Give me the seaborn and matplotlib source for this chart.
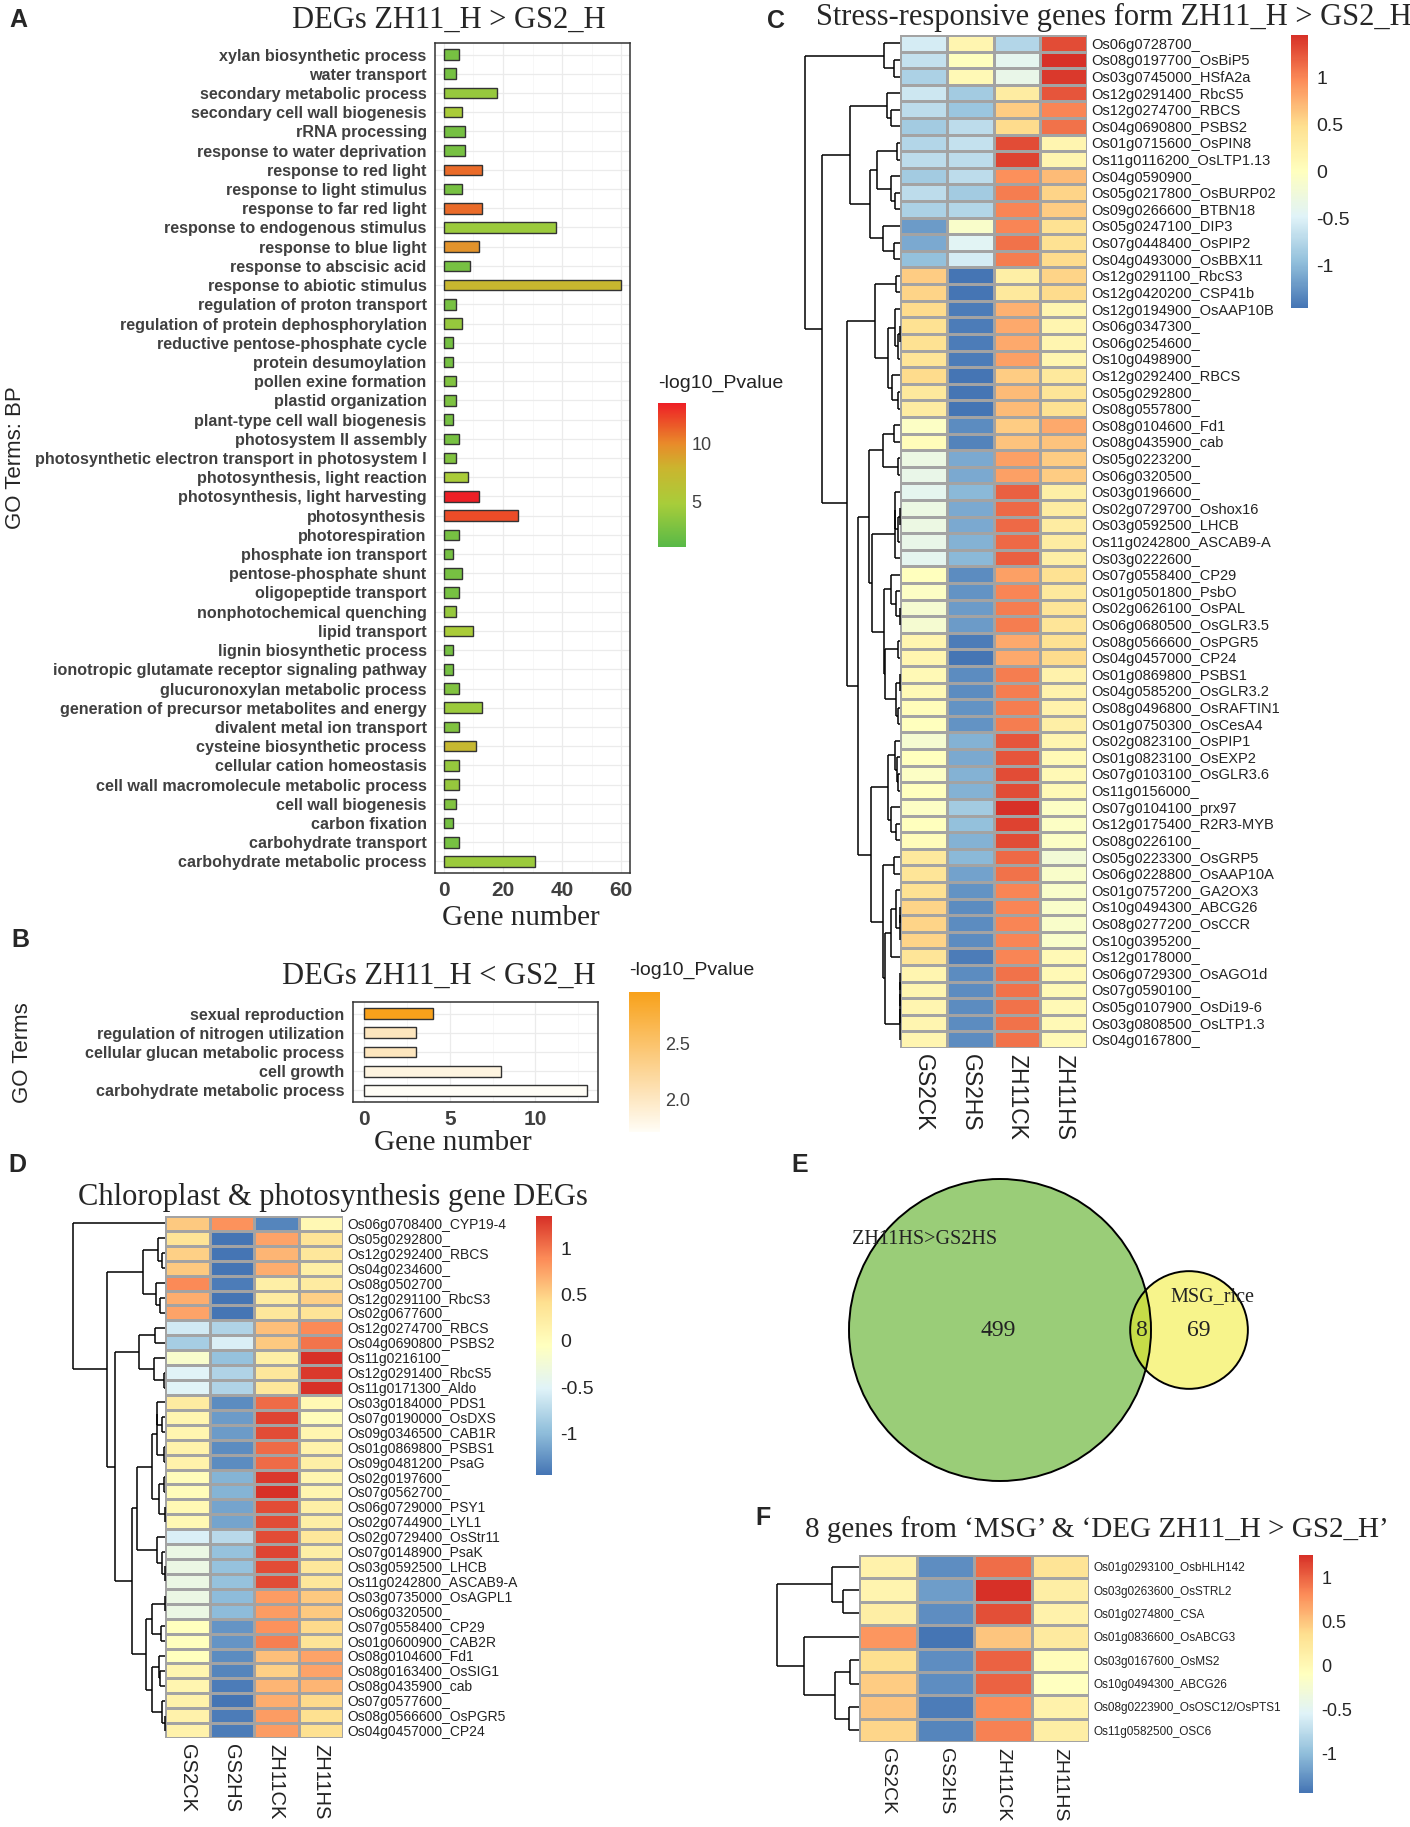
import numpy as np
import pandas as pd
import matplotlib
matplotlib.use("Agg")
import matplotlib.pyplot as plt
import seaborn as sns
from matplotlib import font_manager
from matplotlib.colors import LinearSegmentedColormap, Normalize
from matplotlib.cm import ScalarMappable
from matplotlib.patches import Circle

# ---------------- data ----------------
# panel A: GO terms up in ZH11_H
go_terms_a = [
    "xylan biosynthetic process", "water transport", "secondary metabolic process",
    "secondary cell wall biogenesis", "rRNA processing", "response to water deprivation",
    "response to red light", "response to light stimulus", "response to far red light",
    "response to endogenous stimulus", "response to blue light", "response to abscisic acid",
    "response to abiotic stimulus", "regulation of proton transport",
    "regulation of protein dephosphorylation", "reductive pentose-phosphate cycle",
    "protein desumoylation", "pollen exine formation", "plastid organization",
    "plant-type cell wall biogenesis", "photosystem II assembly",
    "photosynthetic electron transport in photosystem I", "photosynthesis, light reaction",
    "photosynthesis, light harvesting", "photosynthesis", "photorespiration",
    "phosphate ion transport", "pentose-phosphate shunt", "oligopeptide transport",
    "nonphotochemical quenching", "lipid transport", "lignin biosynthetic process",
    "ionotropic glutamate receptor signaling pathway", "glucuronoxylan metabolic process",
    "generation of precursor metabolites and energy", "divalent metal ion transport",
    "cysteine biosynthetic process", "cellular cation homeostasis",
    "cell wall macromolecule metabolic process", "cell wall biogenesis", "carbon fixation",
    "carbohydrate transport", "carbohydrate metabolic process"]
gene_num_a = [5, 4, 18, 6, 7, 7, 13, 6, 13, 38, 12, 9, 60, 4, 6, 3, 3, 4, 4, 3, 5, 4, 8, 12, 25,
              5, 3, 6, 5, 4, 10, 3, 3, 5, 13, 5, 11, 5, 5, 4, 3, 5, 31]
pval_a = [2.6, 2.5, 4.0, 5.0, 2.5, 2.6, 11.0, 2.6, 11.0, 4.2, 9.6, 2.6, 7.6, 2.6, 4.0, 2.5, 2.5,
          3.0, 2.8, 2.5, 2.6, 3.0, 5.0, 13.5, 12.0, 2.6, 2.5, 2.6, 2.6, 4.0, 5.0, 2.5, 2.5, 3.0,
          4.2, 3.0, 7.5, 4.0, 4.0, 3.0, 2.5, 2.6, 4.2]

# panel B: GO terms down in ZH11_H
go_terms_b = ["sexual reproduction", "regulation of nitrogen utilization",
              "cellular glucan metabolic process", "cell growth", "carbohydrate metabolic process"]
gene_num_b = [4, 3, 3, 8, 13]
pval_b = [2.95, 2.03, 2.03, 1.84, 1.71]

samples = ["GS2CK", "GS2HS", "ZH11CK", "ZH11HS"]

# panel C: stress-responsive genes (row z-scores)
genes_c = [
    "Os06g0728700_", "Os08g0197700_OsBiP5", "Os03g0745000_HSfA2a", "Os12g0291400_RbcS5",
    "Os12g0274700_RBCS", "Os04g0690800_PSBS2", "Os01g0715600_OsPIN8", "Os11g0116200_OsLTP1.13",
    "Os04g0590900_", "Os05g0217800_OsBURP02", "Os09g0266600_BTBN18", "Os05g0247100_DIP3",
    "Os07g0448400_OsPIP2", "Os04g0493000_OsBBX11", "Os12g0291100_RbcS3", "Os12g0420200_CSP41b",
    "Os12g0194900_OsAAP10B", "Os06g0347300_", "Os06g0254600_", "Os10g0498900_",
    "Os12g0292400_RBCS", "Os05g0292800_", "Os08g0557800_", "Os08g0104600_Fd1",
    "Os08g0435900_cab", "Os05g0223200_", "Os06g0320500_", "Os03g0196600_",
    "Os02g0729700_Oshox16", "Os03g0592500_LHCB", "Os11g0242800_ASCAB9-A", "Os03g0222600_",
    "Os07g0558400_CP29", "Os01g0501800_PsbO", "Os02g0626100_OsPAL", "Os06g0680500_OsGLR3.5",
    "Os08g0566600_OsPGR5", "Os04g0457000_CP24", "Os01g0869800_PSBS1", "Os04g0585200_OsGLR3.2",
    "Os08g0496800_OsRAFTIN1", "Os01g0750300_OsCesA4", "Os02g0823100_OsPIP1",
    "Os01g0823100_OsEXP2", "Os07g0103100_OsGLR3.6", "Os11g0156000_", "Os07g0104100_prx97",
    "Os12g0175400_R2R3-MYB", "Os08g0226100_", "Os05g0223300_OsGRP5", "Os06g0228800_OsAAP10A",
    "Os01g0757200_GA2OX3", "Os10g0494300_ABCG26", "Os08g0277200_OsCCR", "Os10g0395200_",
    "Os12g0178000_", "Os06g0729300_OsAGO1d", "Os07g0590100_", "Os05g0107900_OsDi19-6",
    "Os03g0808500_OsLTP1.3", "Os04g0167800_"]
gs2ck_c = [-0.55, -0.65, -0.8, -0.6, -0.7, -0.85, -0.75, -0.7, -0.85, -0.7, -0.8, -1.2, -1.1, -0.95,
           0.6, 0.55, 0.5, 0.45, 0.45, 0.4, 0.5, 0.35, 0.3,
           -0.05, 0.05, -0.3, -0.35, -0.4, -0.3, -0.3, -0.35, -0.4,
           0.0, -0.05, -0.15, -0.15, 0.15, 0.15, 0.1, 0.1, 0.05, 0.0,
           -0.15, 0.0, -0.05, 0.0, -0.05, 0.0, 0.05,
           0.35, 0.4, 0.45, 0.55, 0.55, 0.55, 0.4, 0.15, 0.15, 0.15, 0.15, 0.15]
gs2hs_c = [0.15, 0.0, 0.1, -0.85, -0.9, -0.7, -0.65, -0.7, -0.7, -0.85, -0.75, -0.1, -0.45, -0.55,
           -1.45, -1.45, -1.4, -1.4, -1.4, -1.4, -1.45, -1.45, -1.45,
           -1.3, -1.35, -1.1, -1.1, -1.0, -1.1, -1.1, -1.05, -1.0,
           -1.3, -1.25, -1.2, -1.2, -1.4, -1.45, -1.3, -1.3, -1.25, -1.25,
           -1.05, -1.1, -1.05, -1.05, -0.85, -0.95, -1.05,
           -1.0, -1.15, -1.25, -1.3, -1.3, -1.3, -1.4, -1.3, -1.3, -1.3, -1.3, -1.3]
zh11ck_c = [-0.75, -0.4, -0.35, 0.3, 0.6, 0.5, 1.3, 1.35, 0.95, 1.05, 1.0, 1.0, 1.1, 1.05,
            0.25, 0.35, 0.75, 0.8, 0.8, 0.85, 0.6, 0.7, 0.7,
            0.6, 0.65, 0.85, 0.85, 1.2, 1.15, 1.15, 1.15, 1.2,
            0.85, 1.0, 1.05, 1.05, 0.8, 0.8, 1.05, 1.05, 1.05, 1.05,
            1.25, 1.25, 1.3, 1.3, 1.45, 1.35, 1.3,
            1.15, 1.1, 1.0, 1.0, 1.0, 1.0, 1.0, 1.1, 1.1, 1.1, 1.1, 1.1]
zh11hs_c = [1.3, 1.45, 1.4, 1.25, 1.0, 1.1, 0.15, 0.15, 0.7, 0.55, 0.6, 0.45, 0.45, 0.5,
            0.55, 0.5, 0.15, 0.15, 0.15, 0.15, 0.35, 0.4, 0.45,
            0.8, 0.65, 0.6, 0.6, 0.25, 0.3, 0.3, 0.3, 0.25,
            0.45, 0.35, 0.4, 0.4, 0.45, 0.5, 0.2, 0.2, 0.2, 0.25,
            0.15, 0.1, 0.1, 0.1, -0.05, -0.05, -0.05,
            -0.2, -0.1, -0.1, -0.1, -0.1, -0.1, 0.1, 0.1, 0.1, 0.1, 0.1, 0.1]

# panel D: chloroplast & photosynthesis genes
genes_d = [
    "Os06g0708400_CYP19-4", "Os05g0292800_", "Os12g0292400_RBCS", "Os04g0234600_",
    "Os08g0502700_", "Os12g0291100_RbcS3", "Os02g0677600_", "Os12g0274700_RBCS",
    "Os04g0690800_PSBS2", "Os11g0216100_", "Os12g0291400_RbcS5", "Os11g0171300_Aldo",
    "Os03g0184000_PDS1", "Os07g0190000_OsDXS", "Os09g0346500_CAB1R", "Os01g0869800_PSBS1",
    "Os09g0481200_PsaG", "Os02g0197600_", "Os07g0562700_", "Os06g0729000_PSY1",
    "Os02g0744900_LYL1", "Os02g0729400_OsStr11", "Os07g0148900_PsaK", "Os03g0592500_LHCB",
    "Os11g0242800_ASCAB9-A", "Os03g0735000_OsAGPL1", "Os06g0320500_", "Os07g0558400_CP29",
    "Os01g0600900_CAB2R", "Os08g0104600_Fd1", "Os08g0163400_OsSIG1", "Os08g0435900_cab",
    "Os07g0577600_", "Os08g0566600_OsPGR5", "Os04g0457000_CP24"]
gs2ck_d = [0.55, 0.35, 0.5, 0.55, 0.9, 0.7, 0.75, -0.6, -0.85, -0.15, -0.5, -0.5,
           0.25, 0.1, 0.1, 0.15, 0.15, 0.0, 0.0, 0.05, 0.05,
           -0.55, -0.35, -0.35, -0.35, -0.35, -0.35, -0.05, -0.05,
           -0.05, 0.1, 0.1, 0.15, 0.15, 0.15]
gs2hs_d = [0.85, -1.45, -1.45, -1.45, -1.4, -1.45, -1.45, -0.8, -0.55, -0.95, -0.8, -0.8,
           -1.3, -1.2, -1.2, -1.3, -1.3, -1.05, -1.05, -1.15, -1.15,
           -0.75, -0.95, -0.95, -0.95, -1.0, -1.0, -1.25, -1.25,
           -1.3, -1.35, -1.4, -1.45, -1.4, -1.4]
zh11ck_d = [-1.35, 0.75, 0.65, 0.7, 0.2, 0.25, 0.3, 0.6, 0.55, 0.2, 0.3, 0.3,
            1.05, 1.25, 1.2, 1.05, 1.05, 1.3, 1.35, 1.2, 1.2,
            1.2, 1.25, 1.2, 1.2, 0.8, 0.8, 0.85, 0.95,
            0.6, 0.5, 0.65, 0.7, 0.8, 0.8]
zh11hs_d = [0.05, 0.35, 0.3, 0.2, 0.25, 0.5, 0.35, 0.9, 1.0, 1.35, 1.3, 1.35,
            0.05, 0.0, 0.1, 0.15, 0.2, 0.1, 0.1, 0.2, 0.2,
            0.3, 0.2, 0.3, 0.3, 0.55, 0.55, 0.45, 0.35,
            0.75, 0.75, 0.65, 0.45, 0.4, 0.4]

# panel E: Venn counts
venn_only_deg = 499
venn_both = 8
venn_only_msg = 69

# panel F: 8 shared genes
genes_f = ["Os01g0293100_OsbHLH142", "Os03g0263600_OsSTRL2", "Os01g0274800_CSA",
           "Os01g0836600_OsABCG3", "Os03g0167600_OsMS2", "Os10g0494300_ABCG26",
           "Os08g0223900_OsOSC12/OsPTS1", "Os11g0582500_OSC6"]
gs2ck_f = [0.1, 0.05, 0.15, 0.75, 0.35, 0.45, 0.5, 0.4]
gs2hs_f = [-1.3, -1.2, -1.3, -1.45, -1.3, -1.3, -1.4, -1.35]
zh11ck_f = [0.95, 1.25, 1.1, 0.5, 1.0, 1.0, 0.8, 0.85]
zh11hs_f = [0.3, 0.15, 0.1, 0.2, -0.05, -0.1, 0.1, 0.15]

# ---------------- style ----------------
sns.set_style("white")
plt.rcParams["font.family"] = ["Liberation Sans", "DejaVu Sans"]


def has_font(name):
    try:
        font_manager.findfont(font_manager.FontProperties(family=name), fallback_to_default=False)
        return True
    except ValueError:
        return False


if has_font("Liberation Sans Narrow"):
    NARROW, nscale = "Liberation Sans Narrow", 1.0
else:
    NARROW, nscale = "Liberation Sans", 0.93
SERIF = "Liberation Serif"

W, H = 1410, 1827
fig = plt.figure(figsize=(W / 100, H / 100), dpi=100)


def box(x0, y0, x1, y1):
    # pixel box, origin top-left -> figure fraction rect
    return [x0 / W, 1 - y1 / H, (x1 - x0) / W, (y1 - y0) / H]


def ftext(x, y, s, **kw):
    fig.text(x / W, 1 - y / H, s, **kw)


def letter(x, y, s):
    ftext(x, y, s, fontsize=18, fontweight="bold", ha="center", va="center")


# ---------------- GO bar panels ----------------
cmap_a = LinearSegmentedColormap.from_list(
    "go_a", [(0, "#58b947"), (0.3, "#a8cd3a"), (0.55, "#cbb52e"), (0.72, "#e98a2a"), (1, "#ee1f26")])
cmap_b = LinearSegmentedColormap.from_list("go_b", ["#fffdf6", "#f8a11a"])


def go_bar(ax, terms, counts, pvals, cmap, norm, xmax, xticks, minor):
    df = pd.DataFrame({"term": terms, "n": counts})
    cols = [cmap(norm(v)) for v in pvals]
    sns.barplot(data=df, x="n", y="term", hue="term", palette=cols, legend=False,
                width=0.55, edgecolor="#333333", linewidth=1.0, saturation=1, ax=ax)
    ax.set_xlim(-0.05 * xmax, 1.05 * xmax)
    ax.set_ylim(len(terms) - 0.4, -0.6)
    ax.set_xticks(xticks)
    ax.set_xticks(minor, minor=True)
    ax.grid(True, which="major", color="#ebebeb", lw=0.9)
    ax.grid(True, which="minor", axis="x", color="#f4f4f4", lw=0.5)
    ax.set_axisbelow(True)
    ax.set_xlabel("")
    ax.set_ylabel("")
    for sp in ax.spines.values():
        sp.set_color("#333333")
        sp.set_linewidth(1.1)
    ax.tick_params(axis="both", which="major", length=4, width=1, color="#333333", pad=2)
    ax.tick_params(axis="x", which="minor", length=0)
    fp_y = font_manager.FontProperties(family=NARROW, weight="bold", size=12.5 * nscale)
    fp_x = font_manager.FontProperties(family=NARROW, weight="bold", size=15)
    for lbl in ax.get_yticklabels():
        lbl.set_fontproperties(fp_y)
        lbl.set_color("#404040")
    for lbl in ax.get_xticklabels():
        lbl.set_fontproperties(fp_x)
        lbl.set_color("#404040")


def go_cbar(rect, cmap, norm, ticks, labels, title, tx, ty):
    cax = fig.add_axes(rect)
    cb = fig.colorbar(ScalarMappable(norm=norm, cmap=cmap), cax=cax, ticks=ticks)
    cb.outline.set_visible(False)
    cb.set_ticklabels(labels)
    cax.tick_params(left=True, right=True, direction="in", length=5, width=1.2,
                    color="white", labelcolor="#404040", labelsize=13, pad=4)
    for lbl in cax.get_yticklabels():
        lbl.set_family(NARROW)
    ftext(tx, ty, title, fontsize=14, family=NARROW, color="#222222", ha="left", va="center")


# panel A
ax_a = fig.add_axes(box(435, 43, 630, 873))
norm_a = Normalize(1.1, 13.5)
go_bar(ax_a, go_terms_a, gene_num_a, pval_a, cmap_a, norm_a, 60, [0, 20, 40, 60], [10, 30, 50])
go_cbar(box(658, 403, 686, 547), cmap_a, norm_a, [5, 10], ["5", "10"], "-log10_Pvalue", 658, 383)
letter(18, 20, "A")
ftext(449, 20, "DEGs ZH11_H > GS2_H", family=SERIF, fontsize=22, ha="center", va="center")
ftext(521, 918, "Gene number", family=SERIF, fontsize=21, ha="center", va="center")
ftext(16, 458, "GO Terms: BP", fontsize=16, rotation=90, ha="center", va="center")

# panel B
ax_b = fig.add_axes(box(353, 1002, 598, 1102))
norm_b = Normalize(1.71, 2.955)
go_bar(ax_b, go_terms_b, gene_num_b, pval_b, cmap_b, norm_b, 13, [0, 5, 10], [2.5, 7.5, 12.5])
go_cbar(box(629, 992, 660, 1132), cmap_b, norm_b, [2.0, 2.5], ["2.0", "2.5"], "-log10_Pvalue", 629, 970)
letter(20, 940, "B")
ftext(439, 976, "DEGs ZH11_H < GS2_H", family=SERIF, fontsize=22, ha="center", va="center")
ftext(453, 1143, "Gene number", family=SERIF, fontsize=21, ha="center", va="center")
ftext(23, 1053, "GO Terms", fontsize=16, rotation=90, ha="center", va="center")

# ---------------- heatmaps ----------------
cmap_hm = LinearSegmentedColormap.from_list(
    "rdylbu_r", ["#4575B4", "#91BFDB", "#E0F3F8", "#FFFFBF", "#FEE090", "#FC8D59", "#D73027"])


def adjacent_complete_linkage(X):
    # complete-linkage clustering, merging only neighbouring clusters so the row order is kept
    dist = np.sqrt(((X[:, None, :] - X[None, :, :]) ** 2).sum(-1))
    clusters = [dict(members=[i], y=i + 0.5, h=0.0) for i in range(len(X))]
    segs = []
    while len(clusters) > 1:
        d = [dist[np.ix_(a["members"], b["members"])].max()
             for a, b in zip(clusters[:-1], clusters[1:])]
        k = int(np.argmin(d))
        a, b = clusters[k], clusters[k + 1]
        h = max(d[k], a["h"], b["h"])
        segs += [((a["h"], h), (a["y"], a["y"])), ((b["h"], h), (b["y"], b["y"])),
                 ((h, h), (a["y"], b["y"]))]
        clusters[k:k + 2] = [dict(members=a["members"] + b["members"], y=(a["y"] + b["y"]) / 2, h=h)]
    return segs, clusters[0]["h"]


def heatmap_panel(genes, cols, hm, dendro_x0, cb, row_fs, col_fs, cb_fs):
    data = pd.DataFrame(np.column_stack(cols), index=genes, columns=samples)
    x0, y0, x1, y1 = hm
    ax = fig.add_axes(box(x0, y0, x1, y1))
    cax = fig.add_axes(box(*cb))
    sns.heatmap(data, ax=ax, cmap=cmap_hm, vmin=data.values.min(), vmax=data.values.max(),
                linewidths=1.0, linecolor="#a3a3a3", cbar_ax=cax,
                cbar_kws=dict(ticks=[-1, -0.5, 0, 0.5, 1]), xticklabels=True, yticklabels=True)
    ax.yaxis.tick_right()
    ax.set_yticklabels(genes, rotation=0, fontsize=row_fs, color="#222222")
    ax.set_xticklabels(samples, rotation=270, fontsize=col_fs, color="#222222", va="top")
    ax.tick_params(length=0, pad=3)
    ax.tick_params(axis="x", pad=4)
    ax.set_xlabel("")
    ax.set_ylabel("")
    cbar = ax.collections[0].colorbar
    cbar.outline.set_visible(False)
    cbar.set_ticklabels(["-1", "-0.5", "0", "0.5", "1"])
    cax.tick_params(length=0, labelsize=cb_fs, pad=6)

    segs, root_h = adjacent_complete_linkage(data.values)
    axd = fig.add_axes(box(dendro_x0, y0, x0, y1))
    for xs, ys in segs:
        axd.plot(xs, ys, color="black", lw=1.1, solid_capstyle="butt", clip_on=False)
    axd.set_xlim(root_h, 0)
    axd.set_ylim(len(genes), 0)
    axd.axis("off")


# panel C
heatmap_panel(genes_c, [gs2ck_c, gs2hs_c, zh11ck_c, zh11hs_c], (900, 35, 1087, 1048), 805,
              (1291, 35, 1308, 308), 10.5, 16.5, 14)
letter(776, 21, "C")
ftext(816, 17, "Stress-responsive genes form ZH11_H > GS2_H", family=SERIF, fontsize=22,
      ha="left", va="center")

# panel D
heatmap_panel(genes_d, [gs2ck_d, gs2hs_d, zh11ck_d, zh11hs_d], (165, 1216, 343, 1738), 73,
              (536, 1216, 552, 1475), 10, 14.5, 14)
letter(17, 1165, "D")
ftext(78, 1198, "Chloroplast & photosynthesis gene DEGs", family=SERIF, fontsize=22,
      ha="left", va="center")

# panel F
heatmap_panel(genes_f, [gs2ck_f, gs2hs_f, zh11ck_f, zh11hs_f], (859, 1555, 1089, 1742), 777,
              (1299, 1555, 1313, 1793), 8.5, 14, 13)
letter(763, 1518, "F")
ftext(805, 1530, "8 genes from \u2018MSG\u2019 & \u2018DEG ZH11_H > GS2_H\u2019", family=SERIF,
      fontsize=21, ha="left", va="center")

# ---------------- panel E: Venn ----------------
ax_e = fig.add_axes(box(780, 1150, 1410, 1500))
ax_e.set_xlim(780, 1410)
ax_e.set_ylim(1500, 1150)
ax_e.axis("off")

k = 151 / np.sqrt(507)  # pixels per sqrt(gene)
r1 = k * np.sqrt(venn_only_deg + venn_both)
r2 = k * np.sqrt(venn_only_msg + venn_both)
target = np.pi * k ** 2 * venn_both


def lens_area(d):
    c1 = np.clip((d ** 2 + r1 ** 2 - r2 ** 2) / (2 * d * r1), -1, 1)
    c2 = np.clip((d ** 2 + r2 ** 2 - r1 ** 2) / (2 * d * r2), -1, 1)
    q = max((-d + r1 + r2) * (d + r1 - r2) * (d - r1 + r2) * (d + r1 + r2), 0)
    return r1 ** 2 * np.arccos(c1) + r2 ** 2 * np.arccos(c2) - 0.5 * np.sqrt(q)


lo, hi = r1 - r2, r1 + r2
for _ in range(60):
    mid = (lo + hi) / 2
    if lens_area(mid) > target:
        lo = mid
    else:
        hi = mid
dist_c = (lo + hi) / 2

cx1, cy = 1000, 1330
cx2 = cx1 + dist_c
big = Circle((cx1, cy), r1, fc="#9acd78", ec="none")
small = Circle((cx2, cy), r2, fc="#f7f48b", ec="none")
ax_e.add_patch(big)
ax_e.add_patch(small)
inter = Circle((cx2, cy), r2, fc="#c6dc48", ec="none")
ax_e.add_patch(inter)
inter.set_clip_path(big)
ax_e.add_patch(Circle((cx1, cy), r1, fill=False, ec="black", lw=1.4))
ax_e.add_patch(Circle((cx2, cy), r2, fill=False, ec="black", lw=1.4))

ax_e.text(cx1 - 2, cy, str(venn_only_deg), family=SERIF, fontsize=17, ha="center", va="center",
          color="#222222")
ax_e.text((cx1 + r1 + cx2 - r2) / 2, cy, str(venn_both), family=SERIF, fontsize=17, ha="center",
          va="center", color="#222222")
ax_e.text(cx2 + 10, cy, str(venn_only_msg), family=SERIF, fontsize=17, ha="center", va="center",
          color="#222222")
ax_e.text(cx1 - 148, cy - 90, "ZH11HS>GS2HS", family=SERIF, fontsize=14.5, ha="left",
          va="center", color="#222222")
ax_e.text(cx2 + 23, cy - 33, "MSG_rice", family=SERIF, fontsize=14.5, ha="center", va="center",
          color="#222222")
letter(800, 1165, "E")

fig.savefig("out.png", dpi=100)
